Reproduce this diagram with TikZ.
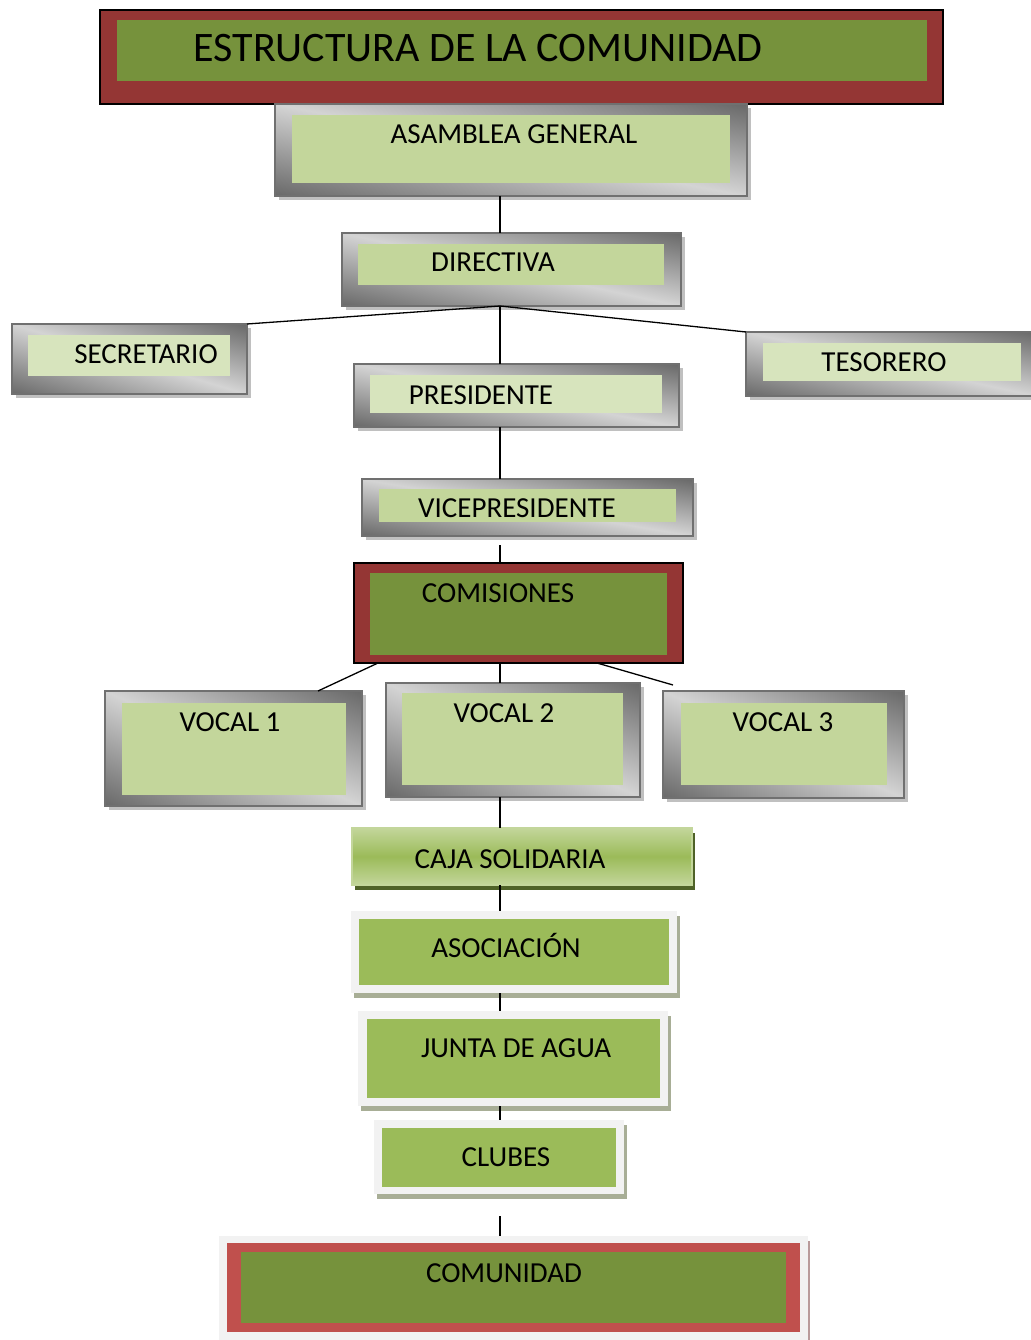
\documentclass[tikz,border=0pt]{standalone}
\usepackage{fontspec}
\setmainfont{Carlito}
\usetikzlibrary{calc,shadows}

\definecolor{rojoOscuro}{RGB}{148,54,52}
\definecolor{rojoClaro}{RGB}{192,80,77}
\definecolor{verdeOliva}{RGB}{118,146,60}
\definecolor{verdeClaro}{RGB}{195,214,155}
\definecolor{verdePalido}{RGB}{215,228,189}
\definecolor{verdeMedio}{RGB}{155,187,89}
\definecolor{verdeSombra}{RGB}{79,98,40}
\definecolor{grisBorde}{RGB}{112,112,112}
\definecolor{grisSombra}{RGB}{192,192,192}
\definecolor{blancoMarco}{RGB}{242,242,242}
\definecolor{sombraVerde}{RGB}{168,174,150}
\definecolor{sombraRosa}{RGB}{185,155,155}

% marco gris: claro en la diagonal, oscuro en las otras dos esquinas
\pgfdeclarefunctionalshading{metalico}{\pgfpoint{-50bp}{-50bp}}{\pgfpoint{50bp}{50bp}}{}{
  add 50 div abs 1 exch sub dup 0 lt {pop 0} if 0.42 mul 0.41 add dup dup
}

\tikzset{
  caja/.style     = {inner sep=0pt, outer sep=0pt, anchor=north west},
  metal/.style    = {caja, draw=grisBorde, line width=1.2pt, shade, shading=metalico,
                     drop shadow={shadow xshift=4pt, shadow yshift=-4pt,
                                  fill=grisSombra, opacity=1}},
  rojo/.style     = {caja, draw=black, line width=1.3pt, fill=rojoOscuro},
  blanco/.style   = {caja, fill=blancoMarco,
                     drop shadow={shadow xshift=3pt, shadow yshift=-5pt,
                                  fill=sombraVerde, opacity=1}},
  degradado/.style = {caja, draw=verdeClaro, line width=1.5pt,
                     top color=verdeClaro, bottom color=verdeClaro,
                     middle color=verdeMedio,
                     drop shadow={shadow xshift=3pt, shadow yshift=-5pt,
                                  fill=verdeSombra, opacity=1}},
  interior/.style n args={5}{path picture={
      \fill[#1] ($(path picture bounding box.north west)+(#2,#3)$)
        rectangle ($(path picture bounding box.south east)+(-#4,-#5)$);}},
  txt/.style      = {font=\fontsize{29}{34}\selectfont, inner sep=0pt, anchor=base},
  linea/.style    = {black, line width=1.3pt}
}

\begin{document}
\begin{tikzpicture}[x=1pt, y=-1pt]
\useasboundingbox (0,0) rectangle (1030,1340);
\coordinate (eje) at (500,0);

% cabecera
\node[rojo, minimum width=843pt, minimum height=94pt,
      interior={verdeOliva}{17}{10}{16}{23}] (titulo) at (100,10) {};
\node[font=\fontsize{42}{50}\selectfont, inner sep=0pt, anchor=base] (tituloT) at (478,61.5) {ESTRUCTURA DE LA COMUNIDAD};

% directiva
\node[metal, minimum width=472pt, minimum height=92pt,
      interior={verdeClaro}{17}{11}{17}{13}] (asam) at (275,104) {};
\node[txt] (asamT) at (514,144) {ASAMBLEA GENERAL};
\node[metal, minimum width=339pt, minimum height=73pt,
      interior={verdeClaro}{16}{11}{17}{21}] (dir) at (342,233) {};
\node[txt] (dirT) at (493,272) {DIRECTIVA};
\node[metal, minimum width=235pt, minimum height=70pt,
      interior={verdePalido}{16}{11}{17}{18}] (secr) at (12,324) {};
\node[txt] (secrT) at (146,363) {SECRETARIO};
\node[metal, minimum width=290pt, minimum height=64pt,
      interior={verdePalido}{17}{11}{15}{15}] (teso) at (746,332) {};
\node[txt] (tesoT) at (884,371) {TESORERO};
\node[metal, minimum width=325pt, minimum height=63pt,
      interior={verdePalido}{16}{11}{17}{14}] (pres) at (354,364) {};
\node[txt] (presT) at (481,404) {PRESIDENTE};
\node[metal, minimum width=331pt, minimum height=57pt,
      interior={verdeClaro}{17}{10}{17}{14}] (vice) at (362,479) {};
\node[txt] (viceT) at (517,517) {VICEPRESIDENTE};

% comisiones y vocales
\node[rojo, minimum width=329pt, minimum height=100pt,
      interior={verdeOliva}{16}{10}{16}{8}] (comi) at (354,563) {};
\node[txt] (comiT) at (498,602) {COMISIONES};
\node[metal, minimum width=257pt, minimum height=115pt,
      interior={verdeClaro}{17}{12}{16}{11}] (voc1) at (105,691) {};
\node[txt] (voc1T) at (230,731) {VOCAL 1};
\node[metal, minimum width=254pt, minimum height=114pt,
      interior={verdeClaro}{16}{10}{17}{12}] (voc2) at (386,683) {};
\node[txt] (voc2T) at (504,722) {VOCAL 2};
\node[metal, minimum width=241pt, minimum height=107pt,
      interior={verdeClaro}{18}{12}{17}{13}] (voc3) at (663,691) {};
\node[txt] (voc3T) at (783,731) {VOCAL 3};
\coordinate (fin3) at (673,685);

% organizaciones
\node[degradado, minimum width=340pt, minimum height=57pt] (caja) at (352,828) {};
\node[txt] (cajaT) at (510,868) {CAJA SOLIDARIA};
\node[blanco, minimum width=326pt, minimum height=82pt,
      interior={verdeMedio}{8}{8}{8}{8}] (asoc) at (351,911) {};
\node[txt] (asocT) at (506,957) {ASOCIACIÓN};
\node[blanco, minimum width=310pt, minimum height=95pt,
      interior={verdeMedio}{9}{8}{8}{8}] (junta) at (358,1011) {};
\node[txt] (juntaT) at (516,1057) {JUNTA DE AGUA};
\node[blanco, minimum width=250pt, minimum height=74pt,
      interior={verdeMedio}{8}{8}{8}{7}] (club) at (374,1120) {};
\node[txt] (clubT) at (506,1166) {CLUBES};
\node[caja, fill=blancoMarco, minimum width=589pt, minimum height=110pt,
      drop shadow={shadow xshift=2pt, shadow yshift=-5pt, fill=sombraRosa, opacity=1},
      path picture={
        \fill[rojoClaro] ($(path picture bounding box.north west)+(8,7)$)
          rectangle ($(path picture bounding box.north east)+(-8,96)$);
        \fill[verdeOliva] ($(path picture bounding box.north west)+(22,16)$)
          rectangle ($(path picture bounding box.north east)+(-22,87)$);}] (comu) at (219,1236) {};
\node[txt] (comuT) at (504,1282) {COMUNIDAD};

% conectores
\draw[linea] (asam.south -| eje) -- (dir.north -| eje);
\draw[linea] (dir.south -| eje) -- (secr.north east);
\draw[linea] (dir.south -| eje) -- (teso.north west);
\draw[linea] (dir.south -| eje) -- (pres.north -| eje);
\draw[linea] (pres.south -| eje) -- (vice.north -| eje);
\draw[linea, shorten <=9pt] (vice.south -| eje) -- (comi.north -| eje);
\draw[linea] ([xshift=24pt]comi.south west) -- ([xshift=-44pt]voc1.north east);
\draw[linea] (comi.south -| eje) -- (voc2.north -| eje);
\draw[linea] ([xshift=-86pt]comi.south east) -- (fin3);
\draw[linea] (voc2.south -| eje) -- (caja.north -| eje);
\draw[linea] (caja.south -| eje) -- (asoc.north -| eje);
\draw[linea] (asoc.south -| eje) -- (junta.north -| eje);
\draw[linea] (junta.south -| eje) -- (club.north -| eje);
\draw[linea, shorten <=22pt] (club.south -| eje) -- (comu.north -| eje);
\end{tikzpicture}
\end{document}
